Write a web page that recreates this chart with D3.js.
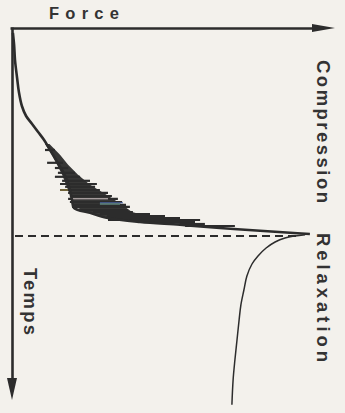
<!DOCTYPE html>
<html>
<head>
<meta charset="utf-8">
<script src="https://cdn.jsdelivr.net/npm/d3@7"></script>
<style>
  body { margin: 0; background: #f3f1ec; }
  svg { display: block; }
  text { font-family: "Liberation Sans", Arial, sans-serif; font-weight: bold; fill: #333; }
</style>
</head>
<body>
<svg></svg>
<script>
// compression trace: [time, force] (arbitrary units)
const compression = [
  [1.2, 0.3], [4.2, 0.7], [8, 1], [12.5, 1.7], [16, 2.3], [19.5, 3.3],
  [22, 4.7], [24, 6.7], [26, 8.7], [28, 10.7], [30.5, 12.7], [33, 14.7],
  [35.5, 16.7], [38, 18.3], [40.5, 19.3], [43, 20], [45, 20.7], [46.2, 26],
  [47.5, 32], [48.5, 42.7], [49.2, 56], [50, 69.3], [50.7, 82.7],
  [51.2, 92.7], [51.5, 99.3]
]

// dark noisy band around the trace: [time, low force, high force]
const band = [
  [29, 11, 12.5], [31.7, 13.3, 16], [34.2, 15, 18.7],
  [36.7, 16.7, 22], [39.2, 18, 26], [41.7, 19.3, 31.5], [44.2, 20.3, 36.7],
  [46, 24.3, 40], [47.2, 31, 46], [48.2, 37.7, 54.3], [49, 56, 62.7]
]

// single oscillation strokes: [time, force from, force to]
const noise = [
  [30.5, 11, 14.3], [33.7, 11.7, 17], [35, 14.3, 18.7], [36.2, 15.3, 21],
  [37.2, 14.3, 22.7], [38.2, 16.7, 26], [39, 16, 28.3], [39.7, 17.7, 27.7],
  [40.5, 16, 29.3], [41.2, 18.7, 32], [42, 19.3, 33.3], [42.7, 18.7, 35.3],
  [43.5, 19.3, 36.7], [44.2, 20, 38], [44.7, 20, 39.3], [45.5, 22.7, 38.7],
  [46, 27, 40.3], [46.5, 29.3, 46], [47, 31.7, 51], [47.5, 32.7, 56],
  [48, 32, 62.7], [48.5, 42.7, 61], [49, 56, 64.3], [49.5, 57.7, 74.3]
]

// a few tinted strokes left by the print
const tinted = [
  [40.5, 16, 18.7, '#b39a48'], [43.7, 29.3, 37, '#4a66a8'],
  [44, 29.3, 36, '#78b0a0'], [42.7, 20, 32, '#d9cccc']
]

// relaxation trace: [time, force]
const relaxation = [
  [51.7, 97.7], [52, 94.3], [52.5, 91], [53.5, 87.7], [55, 84.7], [57, 82],
  [59, 80], [62, 78.3], [65.5, 77.3], [69.2, 76.3], [73, 75.7], [78, 75],
  [83, 74.3], [88, 73.7], [94.2, 73.3]
]

// time of the force peak (dashed marker) and its extent in force
const peakTime = 52
const peakSpan = [1, 96]

const width = 345, height = 413
const ink = '#2c2c2c'

const svg = d3.select('svg')
  .attr('width', width)
  .attr('height', height)

// force runs to the right, time runs downward
const f = d3.scaleLinear().domain([0, 108]).range([12, 336])
const t = d3.scaleLinear().domain([0, 93]).range([28, 400])

// axes with no ticks, only their lines
svg.append('g')
  .attr('transform', `translate(0, ${t(0)})`)
  .call(d3.axisTop(f.copy().domain([-0.7, 100.7]).range([10, 314])).tickValues([]).tickSizeOuter(0))
  .call(g => g.select('.domain').attr('stroke', ink).attr('stroke-width', 2.6))

svg.append('g')
  .attr('transform', `translate(${f(0)}, 0)`)
  .call(d3.axisLeft(t.copy().domain([0, 88]).range([27, 382])).tickValues([]).tickSizeOuter(0))
  .call(g => g.select('.domain').attr('stroke', ink).attr('stroke-width', 2.6))

// arrow heads
svg.append('path')
  .attr('d', `M${f(108) - 1},${t(0)} L${f(100)},${t(0) - 4} L${f(100)},${t(0) + 4} Z`)
  .attr('fill', ink)

svg.append('path')
  .attr('d', `M${f(0)},${t(93)} L${f(0) - 5},${t(87.5)} L${f(0) + 5},${t(87.5)} Z`)
  .attr('fill', ink)

// dashed peak line
svg.append('line')
  .attr('x1', f(peakSpan[0]))
  .attr('x2', f(peakSpan[1]))
  .attr('y1', t(peakTime))
  .attr('y2', t(peakTime))
  .attr('stroke', ink)
  .attr('stroke-width', 2)
  .attr('stroke-dasharray', '8,5')

// noisy band
const area = d3.area()
  .y(d => t(d[0]))
  .x0(d => f(d[1]))
  .x1(d => f(d[2]))
  .curve(d3.curveLinear)

svg.append('path')
  .attr('d', area(band))
  .attr('fill', ink)
  .attr('fill-opacity', 0.95)

svg.append('g')
  .selectAll('line')
  .data(noise)
  .join('line')
  .attr('x1', d => f(d[1]))
  .attr('x2', d => f(d[2]))
  .attr('y1', d => t(d[0]))
  .attr('y2', d => t(d[0]))
  .attr('stroke', ink)
  .attr('stroke-width', 2.2)

svg.append('g')
  .selectAll('line')
  .data(tinted)
  .join('line')
  .attr('x1', d => f(d[1]))
  .attr('x2', d => f(d[2]))
  .attr('y1', d => t(d[0]))
  .attr('y2', d => t(d[0]))
  .attr('stroke', d => d[3])
  .attr('stroke-width', 1)

// traces
const line = d3.line()
  .x(d => f(d[1]))
  .y(d => t(d[0]))
  .curve(d3.curveCatmullRom.alpha(0.5))

svg.append('path')
  .attr('d', line(compression))
  .attr('fill', 'none')
  .attr('stroke', ink)
  .attr('stroke-width', 2.6)

svg.append('path')
  .attr('d', line(relaxation))
  .attr('fill', 'none')
  .attr('stroke', ink)
  .attr('stroke-width', 1.5)

// labels
svg.append('text')
  .attr('x', 49)
  .attr('y', 18.5)
  .attr('font-size', 16.5)
  .attr('textLength', 70)
  .attr('lengthAdjust', 'spacing')
  .text('Force')

const vertical = [
  { label: 'Compression', x: 317, y: 60, len: 143 },
  { label: 'Relaxation', x: 317, y: 233, len: 129 },
  { label: 'Temps', x: 24, y: 268, len: 67 }
]

svg.append('g')
  .selectAll('text')
  .data(vertical)
  .join('text')
  .attr('transform', d => `translate(${d.x}, ${d.y}) rotate(90)`)
  .attr('font-size', 18.5)
  .attr('textLength', d => d.len)
  .attr('lengthAdjust', 'spacing')
  .text(d => d.label)
</script>
</body>
</html>
